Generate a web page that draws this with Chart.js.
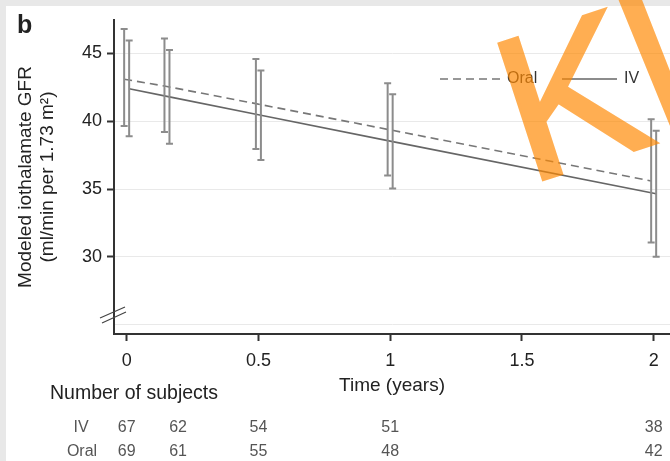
<!DOCTYPE html>
<html>
<head>
<meta charset="utf-8">
<script src="https://cdn.jsdelivr.net/npm/chart.js@4.4.1/dist/chart.umd.min.js"></script>
<style>
html, body { margin: 0; padding: 0; background: #fff; }
#wrap { width: 670px; height: 461px; }
</style>
</head>
<body>
<div id="wrap"><canvas id="chart" width="670" height="461"></canvas></div>
<script>
// values
const times = [0, 0.153, 0.5, 1, 2]
const oralMean = [43.1, 42.6, 41.3, 39.4, 35.6]
const oralLow = [39.65, 39.2, 37.95, 36.0, 31.05]
const oralHigh = [46.8, 46.1, 44.6, 42.8, 40.15]
const ivMean = [42.4, 41.8, 40.45, 38.5, 34.65]
const ivLow = [38.9, 38.35, 37.15, 35.05, 30.0]
const ivHigh = [45.95, 45.25, 43.75, 42.0, 39.3]
const xTicks = [0, 0.5, 1, 1.5, 2]
const yTicks = [25, 30, 35, 40, 45]
const countAt = [0, 0.195, 0.5, 1, 2]
const ivCounts = [67, 62, 54, 51, 38]
const oralCounts = [69, 61, 55, 48, 42]

const FONT = '"Liberation Sans", Arial, sans-serif'
const dodge = 0.0095

const backdrop = {
    id: 'backdrop',
    beforeDraw(chart) {
        const c = chart.ctx
        c.save()
        c.fillStyle = '#e8e8e8'
        c.fillRect(0, 0, chart.width, 6)
        c.fillRect(0, 0, 6, chart.height)
        c.restore()
    }
}

const errorBars = {
    id: 'errorBars',
    afterDatasetsDraw(chart) {
        const { ctx, scales: { x, y } } = chart
        ctx.save()
        ctx.strokeStyle = '#8c8c8c'
        ctx.lineWidth = 2
        const groups = [[oralLow, oralHigh, -dodge], [ivLow, ivHigh, dodge]]
        groups.forEach(([lo, hi, off]) => {
            times.forEach((t, i) => {
                const px = x.getPixelForValue(t + off)
                const top = y.getPixelForValue(hi[i])
                const bot = y.getPixelForValue(lo[i])
                ctx.beginPath()
                ctx.moveTo(px, top); ctx.lineTo(px, bot)
                ctx.moveTo(px - 3.5, top); ctx.lineTo(px + 3.5, top)
                ctx.moveTo(px - 3.5, bot); ctx.lineTo(px + 3.5, bot)
                ctx.stroke()
            })
        })
        ctx.restore()
    }
}

const extras = {
    id: 'extras',
    afterDraw(chart) {
        const { ctx, scales: { x } } = chart
        ctx.save()
        // panel letter
        ctx.fillStyle = '#222'
        ctx.font = 'bold 25px ' + FONT
        ctx.textBaseline = 'alphabetic'
        ctx.fillText('b', 17, 33)

        // axis break
        ctx.strokeStyle = '#444'
        ctx.lineWidth = 1.2
        ctx.beginPath()
        ctx.moveTo(100, 318); ctx.lineTo(125, 307)
        ctx.moveTo(102, 323); ctx.lineTo(126, 312)
        ctx.stroke()

        // legend
        const ds = chart.data.datasets
        const ly = 79
        ctx.lineWidth = 1.6
        ctx.strokeStyle = ds[0].borderColor
        ctx.setLineDash(ds[0].borderDash)
        ctx.beginPath(); ctx.moveTo(440, ly); ctx.lineTo(503, ly); ctx.stroke()
        ctx.setLineDash([])
        ctx.strokeStyle = ds[1].borderColor
        ctx.beginPath(); ctx.moveTo(562, ly); ctx.lineTo(617, ly); ctx.stroke()
        ctx.fillStyle = '#333'
        ctx.font = '16px ' + FONT
        ctx.textBaseline = 'middle'
        ctx.textAlign = 'left'
        ctx.fillText(ds[0].label, 507, ly)
        ctx.fillText(ds[1].label, 624, ly)

        // number of subjects table
        ctx.fillStyle = '#222'
        ctx.font = '19.5px ' + FONT
        ctx.fillText('Number of subjects', 50, 394)
        ctx.fillStyle = '#555'
        ctx.font = '16px ' + FONT
        ctx.textAlign = 'center'
        ctx.fillText('IV', 81, 428)
        ctx.fillText('Oral', 82, 452)
        countAt.forEach((t, i) => {
            const px = x.getPixelForValue(t)
            ctx.fillText(String(ivCounts[i]), px, 428)
            ctx.fillText(String(oralCounts[i]), px, 452)
        })
        ctx.restore()

        // watermark, drawn opaque offscreen then laid over semi-transparent
        const off = document.createElement('canvas')
        off.width = chart.width
        off.height = chart.height
        const o = off.getContext('2d')
        o.font = '208px ' + FONT
        o.textBaseline = 'alphabetic'
        o.fillStyle = o.strokeStyle = '#ff8800'
        o.lineWidth = 3
        o.lineJoin = 'miter'
        o.save()
        o.translate(527, 185)
        o.rotate(-18 * Math.PI / 180)
        o.fillText('K', 0, 0)
        o.strokeText('K', 0, 0)
        o.restore()
        o.fillText('V', 616, 135)
        o.strokeText('V', 616, 135)
        ctx.save()
        ctx.globalAlpha = 0.68
        ctx.drawImage(off, 0, 0)
        ctx.restore()
    }
}

new Chart(document.getElementById('chart').getContext('2d'), {
    type: 'line',
    data: {
        datasets: [
            {
                label: 'Oral',
                data: times.map((t, i) => ({ x: t - dodge, y: oralMean[i] })),
                borderColor: '#777',
                borderWidth: 1.6,
                borderDash: [8, 5],
                pointRadius: 0,
                tension: 0
            },
            {
                label: 'IV',
                data: times.map((t, i) => ({ x: t + dodge, y: ivMean[i] })),
                borderColor: '#666',
                borderWidth: 1.6,
                pointRadius: 0,
                tension: 0
            }
        ]
    },
    options: {
        responsive: false,
        animation: false,
        layout: { padding: { left: 0, top: 20, right: 0, bottom: 61 } },
        plugins: { legend: { display: false }, tooltip: { enabled: false } },
        scales: {
            x: {
                type: 'linear',
                min: -0.048,
                max: 2.062,
                afterBuildTicks: s => { s.ticks = xTicks.map(v => ({ value: v })) },
                afterFit: s => { s.height = 66 },
                ticks: {
                    font: { size: 18, family: FONT },
                    color: '#222',
                    padding: 9,
                    maxRotation: 0,
                    callback: v => String(v)
                },
                grid: { drawOnChartArea: false, tickLength: 7, tickColor: '#333', tickWidth: 2 },
                border: { color: '#333', width: 2 },
                title: {
                    display: true,
                    text: 'Time (years)',
                    color: '#222',
                    font: { size: 19, family: FONT },
                    padding: { top: 0, bottom: 3 }
                }
            },
            y: {
                min: 24.31,
                max: 47.47,
                afterBuildTicks: s => { s.ticks = yTicks.map(v => ({ value: v })) },
                afterFit: s => { s.width = 114 },
                ticks: {
                    font: { size: 18, family: FONT },
                    color: '#222',
                    padding: 5,
                    callback: v => (v === 25 ? '' : String(v))
                },
                grid: {
                    color: '#e9e9e9',
                    lineWidth: 1,
                    tickLength: 7,
                    tickWidth: 2,
                    tickColor: c => (c.tick && c.tick.value === 25 ? 'rgba(0,0,0,0)' : '#333')
                },
                border: { color: '#333', width: 2 },
                title: {
                    display: true,
                    text: ['Modeled iothalamate GFR', '(ml/min per 1.73 m²)'],
                    color: '#222',
                    font: { size: 19, family: FONT, lineHeight: 1.15 },
                    padding: { top: 15, bottom: 0 }
                }
            }
        }
    },
    plugins: [backdrop, errorBars, extras]
})
</script>
</body>
</html>
